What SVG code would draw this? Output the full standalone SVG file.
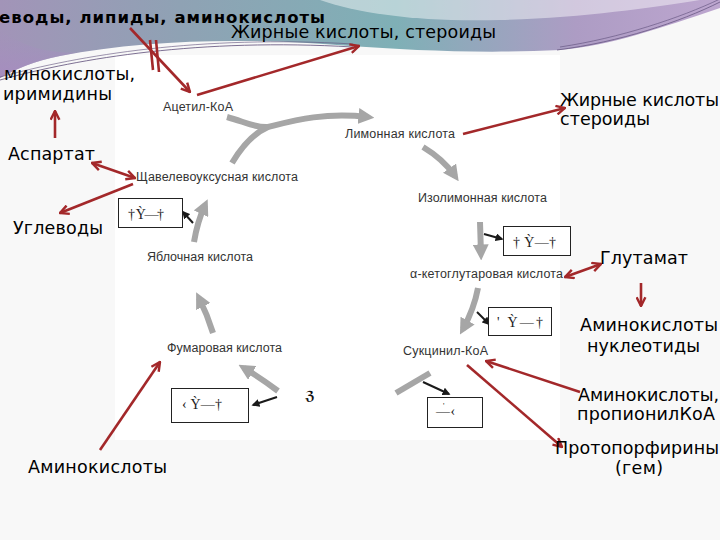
<svg xmlns="http://www.w3.org/2000/svg" width="720" height="540" viewBox="0 0 720 540">
<defs>
<linearGradient id="band" x1="0" y1="0" x2="1" y2="0">
<stop offset="0" stop-color="#a294b8"/>
<stop offset="0.25" stop-color="#8fa2b4"/>
<stop offset="0.55" stop-color="#7fb0b6"/>
<stop offset="0.8" stop-color="#ad9cc4"/>
<stop offset="1" stop-color="#bda6cf"/>
</linearGradient>
<linearGradient id="leftPurple" x1="0" y1="0" x2="0" y2="1">
<stop offset="0" stop-color="#a58fbf" stop-opacity="0"/>
<stop offset="1" stop-color="#a78cc0" stop-opacity="0.9"/>
</linearGradient>
<marker id="red" viewBox="0 0 10 10" refX="9" refY="5" markerWidth="11" markerHeight="11" markerUnits="userSpaceOnUse" orient="auto-start-reverse">
<path d="M1,1 L9,5 L1,9" fill="none" stroke="#a3282a" stroke-width="2.2"/>
</marker>
<marker id="gray" viewBox="0 0 10 10" refX="6" refY="5" markerWidth="16" markerHeight="16" markerUnits="userSpaceOnUse" orient="auto">
<path d="M0,0 L10,5 L0,10 Z" fill="#a6a6a6"/>
</marker>
<marker id="blk" viewBox="0 0 10 10" refX="8" refY="5" markerWidth="8" markerHeight="8" markerUnits="userSpaceOnUse" orient="auto">
<path d="M0,0 L10,5 L0,10 Z" fill="#1a1a1a"/>
</marker>
</defs>
<style>
.lbl{font-family:"DejaVu Sans",sans-serif;font-size:17.5px;fill:#000}
.ttl{font-family:"DejaVu Sans",sans-serif;font-size:16.5px;font-weight:bold;fill:#000}
.cyc{font-family:"Liberation Sans",Arial,sans-serif;font-size:12.5px;fill:#333}
.box rect{fill:#fff;stroke:#222;stroke-width:1}
.box text{font-family:"Liberation Serif",serif;font-size:14px;fill:#222}
.red{fill:none;stroke:#a3282a;stroke-width:2.6}
.ga{fill:none;stroke:#a6a6a6;stroke-width:6}
.ba{fill:none;stroke:#1a1a1a;stroke-width:2}
</style>

<!-- background -->
<rect x="0" y="0" width="720" height="540" fill="#f8f8f8"/>
<rect x="115" y="55" width="445" height="385" fill="#ffffff"/>
<path d="M0,0 H720 V8 C660,28 610,46 560,50 C480,54 410,50 350,46 C260,38 150,38 60,56 C35,61 15,69 0,78 Z" fill="url(#band)"/>
<path d="M0,30 C20,45 50,55 80,52 L60,56 C35,61 15,69 0,78 Z" fill="url(#leftPurple)"/>
<path d="M320,0 C360,14 420,22 500,20 C580,18 650,8 700,0 Z" fill="#ffffff" opacity="0.45"/>
<path d="M0,80 C80,58 200,38 353,47" fill="none" stroke="#5d4d78" stroke-width="0.8"/>
<path d="M0,77 C80,55 200,35 353,44" fill="none" stroke="#5d4d78" stroke-width="0.6"/>
<path d="M557,50 C620,42 680,22 720,2" fill="none" stroke="#5d4d78" stroke-width="0.7"/>
<path d="M560,47 C620,38 680,18 720,-1" fill="none" stroke="#5d4d78" stroke-width="0.6"/>

<!-- connectors -->
<g id="connectors">
<path class="ga" d="M227,117 C245,122 256,128 268,127 C292,121 322,112 368,117" marker-end="url(#gray)"/>
<path class="ga" d="M232,163 C242,146 254,133 268,127"/>
<path class="ga" d="M423,147 C438,156 448,166 455,176" marker-end="url(#gray)"/>
<path class="ga" d="M480,222 L481,254" marker-end="url(#gray)"/>
<path class="ga" d="M478,288 C475,304 469,318 463,329" marker-end="url(#gray)"/>
<path class="ga" d="M430,373 C418,380 406,387 396,393"/>
<path class="ga" d="M278,391 C266,382 254,374 244,368" marker-end="url(#gray)"/>
<path class="ga" d="M213,333 C209,320 204,308 199,298" marker-end="url(#gray)"/>
<path class="ga" d="M194,242 C196,230 199,218 205,205" marker-end="url(#gray)"/>
<path class="ba" d="M193,223 L183,212" marker-end="url(#blk)"/>
<path class="ba" d="M484,234 L502,239" marker-end="url(#blk)"/>
<path class="ba" d="M477,312 L489,324" marker-end="url(#blk)"/>
<path class="ba" d="M423,382 L449,394" marker-end="url(#blk)"/>
<path class="ba" d="M277,397 L253,405" marker-end="url(#blk)"/>
<path class="red" d="M130,28 L190,92" marker-end="url(#red)"/>
<path class="red" d="M150,40 L153,70"/>
<path class="red" d="M156,40 L159,72"/>
<path class="red" d="M197,95 L359,46" marker-end="url(#red)"/>
<path class="red" d="M463,134 L565,108" marker-end="url(#red)"/>
<path class="red" d="M55,138 L55,111" marker-end="url(#red)"/>
<path class="red" d="M92,163 L135,178" marker-start="url(#red)" marker-end="url(#red)"/>
<path class="red" d="M133,184 L60,213" marker-end="url(#red)"/>
<path class="red" d="M565,277 L601,264" marker-start="url(#red)" marker-end="url(#red)"/>
<path class="red" d="M641,283 L641,306" marker-end="url(#red)"/>
<path class="red" d="M580,392 L486,361" marker-end="url(#red)"/>
<path class="red" d="M467,365 L562,447" marker-end="url(#red)"/>
<path class="red" d="M100,450 L160,362" marker-end="url(#red)"/>
</g>

<!-- cycle nodes -->
<g id="acetyl"><text class="cyc" x="163" y="111" textLength="70">Ацетил-КоА</text></g>
<g id="citrate"><text class="cyc" x="345" y="138" textLength="110">Лимонная кислота</text></g>
<g id="oxaloacetate"><text class="cyc" x="136" y="181" textLength="162">Щавелевоуксусная кислота</text></g>
<g id="isocitrate"><text class="cyc" x="418" y="202" textLength="129">Изолимонная кислота</text></g>
<g id="malate"><text class="cyc" x="147" y="261" textLength="106">Яблочная кислота</text></g>
<g id="ketoglutarate"><text class="cyc" x="410" y="278" textLength="153">α-кетоглутаровая кислота</text></g>
<g id="fumarate"><text class="cyc" x="167" y="352" textLength="115">Фумаровая кислота</text></g>
<g id="succinyl"><text class="cyc" x="403" y="355" textLength="85">Сукцинил-КоА</text></g>

<!-- boxes -->
<g id="box1" class="box"><rect x="118.5" y="198.5" width="64" height="29"/><text x="128" y="219" textLength="36">† Ỳ—†</text></g>
<g id="box2" class="box"><rect x="503.5" y="226.5" width="67" height="29"/><text x="513" y="247" textLength="43">† Ỳ—†</text></g>
<g id="box3" class="box"><rect x="488.5" y="307.5" width="63" height="28"/><text x="497" y="327" textLength="46">' Ỳ—†</text></g>
<g id="box4" class="box"><rect x="171.5" y="388.5" width="77" height="34"/><text x="182" y="409" textLength="40">‹ Ỳ—†</text></g>
<g id="box5" class="box"><rect x="427.5" y="397.5" width="55" height="30"/><text x="436" y="416">—<tspan dx="-7" dy="-7" font-size="8">'</tspan><tspan dx="6" dy="7">‹</tspan></text></g>
<g id="glyph"><text x="305" y="400" font-family="DejaVu Sans,sans-serif" font-size="13" font-weight="bold" fill="#111">ℨ</text></g>

<!-- outer labels -->
<g id="lbl-top"><text class="ttl" x="-1" y="23" textLength="326">еводы, липиды, аминокислоты</text></g>
<g id="lbl-fat1"><text class="lbl" x="231" y="38" textLength="265">Жирные кислоты, стероиды</text></g>
<g id="lbl-amino1"><text class="lbl" x="4" y="80" textLength="131">минокислоты,</text><text class="lbl" x="3" y="100" textLength="109">иримидины</text></g>
<g id="lbl-asp"><text class="lbl" x="8" y="160" textLength="87">Аспартат</text></g>
<g id="lbl-carb"><text class="lbl" x="13" y="234" textLength="90">Углеводы</text></g>
<g id="lbl-fat2"><text class="lbl" x="560" y="106" textLength="159">Жирные кислоты</text><text class="lbl" x="560" y="125" textLength="90">стероиды</text></g>
<g id="lbl-glu"><text class="lbl" x="600" y="264" textLength="88">Глутамат</text></g>
<g id="lbl-nuc"><text class="lbl" x="580" y="331" textLength="138">Аминокислоты</text><text class="lbl" x="587" y="352" textLength="113">нуклеотиды</text></g>
<g id="lbl-prop"><text class="lbl" x="578" y="401" textLength="141">Аминокислоты,</text><text class="lbl" x="577" y="420" textLength="138">пропионилКоА</text></g>
<g id="lbl-por"><text class="lbl" x="555" y="454" textLength="164">Протопорфирины</text><text class="lbl" x="615" y="474" textLength="48">(гем)</text></g>
<g id="lbl-amino3"><text class="lbl" x="28" y="473" textLength="139">Аминокислоты</text></g>
</svg>
